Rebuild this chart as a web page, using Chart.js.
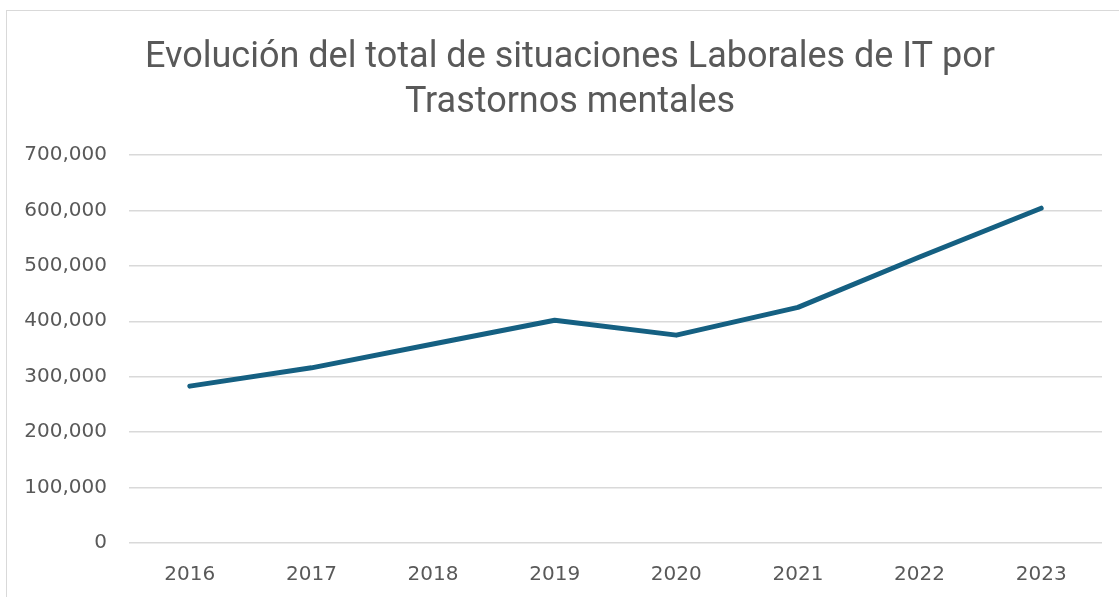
<!DOCTYPE html>
<html>
<head>
<meta charset="utf-8">
<script src="https://cdn.jsdelivr.net/npm/chart.js@4.4.1/dist/chart.umd.min.js"></script>
<style>
  html, body { margin: 0; padding: 0; background: #fff; overflow: hidden; }
  #frame { position: absolute; left: 6px; top: 10px; width: 1140px; height: 620px; border: 1px solid #d9d9d9; }
  #wrap { position: absolute; left: 0; top: 0; width: 1119px; height: 597px; }
</style>
</head>
<body>
<div id="frame"></div>
<div id="wrap"><canvas id="chart_it"></canvas></div>
<script>
// datos
const YEARS = [ '2016', '2017', '2018', '2019', '2020', '2021', '2022', '2023' ];
const TOTAL_IT = [ 283000, 316000, 359000, 402000, 375000, 425000, 516000, 604000 ];
const TITLE_LINES = [ 'Evolución del total de situaciones Laborales de IT por', 'Trastornos mentales' ];

const TEXT_COLOR = '#595959';
const LINE_COLOR = '#156082';

function fmt_miles( v ) {
  return Number( v ).toLocaleString( 'en-US' );
}

// the original title sits a bit right of the canvas centre
const shift_title = {
  id: 'shift_title',
  afterLayout( chart ) {
    if ( chart.titleBlock ) {
      chart.titleBlock.left += 19;
      chart.titleBlock.right += 19;
    }
  }
};

function create_chart( chart_id ) {
  var ctx = document.getElementById( chart_id ).getContext( '2d' );
  return new Chart( ctx, {
    type: 'line',
    data: {
      labels: YEARS,
      datasets: [ {
        label: 'Total',
        data: TOTAL_IT,
        borderColor: LINE_COLOR,
        borderWidth: 5,
        borderCapStyle: 'round',
        borderJoinStyle: 'round',
        pointRadius: 0,
        tension: 0,
        fill: false
      } ]
    },
    plugins: [ shift_title ],
    options: {
      responsive: true,
      maintainAspectRatio: false,
      animation: false,
      layout: { padding: { left: 0, right: 17, top: 0, bottom: 0 } },
      plugins: {
        legend: { display: false },
        tooltip: { enabled: false },
        title: {
          display: true,
          text: TITLE_LINES,
          color: TEXT_COLOR,
          font: { family: 'Roboto', size: 36, weight: 'normal', lineHeight: 1.25 },
          padding: { top: 35, bottom: 30 }
        }
      },
      scales: {
        x: {
          offset: true,
          afterFit: function ( scale ) { scale.height = 54; },
          grid: { display: false, drawTicks: false },
          border: { display: false },
          ticks: {
            color: TEXT_COLOR,
            font: { family: 'DejaVu Sans', size: 20 },
            padding: 20
          }
        },
        y: {
          min: 0,
          max: 700000,
          afterFit: function ( scale ) { scale.width = 129; },
          grid: { color: '#d9d9d9', lineWidth: 1.5, drawTicks: false },
          border: { display: false },
          ticks: {
            stepSize: 100000,
            color: TEXT_COLOR,
            font: { family: 'DejaVu Sans', size: 20 },
            padding: 22,
            callback: fmt_miles
          }
        }
      }
    }
  } );
}

document.addEventListener( 'DOMContentLoaded', function () {
  create_chart( 'chart_it' );
} );
</script>
</body>
</html>
